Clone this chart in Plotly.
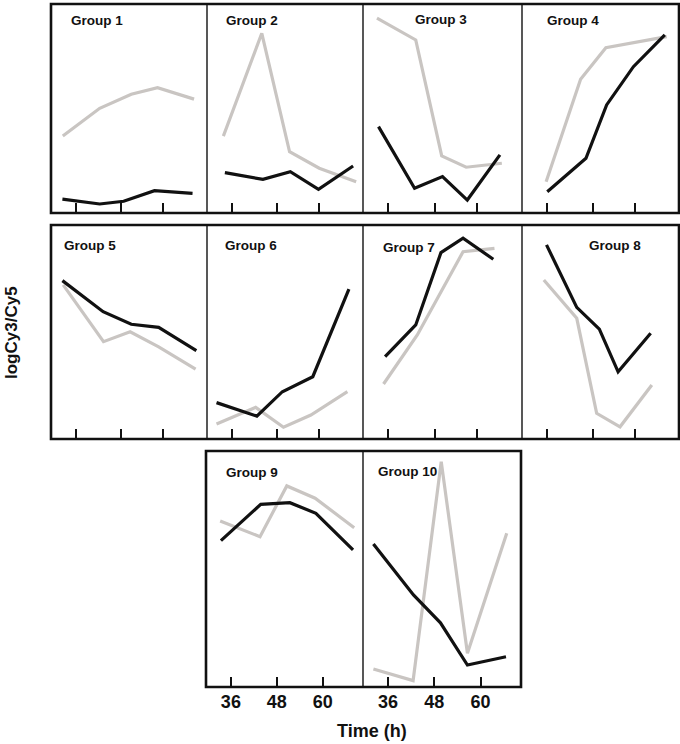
import plotly.graph_objects as go

# DATA (time in h, value as % of panel height)
groups = ["Group 1", "Group 2", "Group 3", "Group 4", "Group 5",
          "Group 6", "Group 7", "Group 8", "Group 9", "Group 10"]

black_t = [
    [32.5, 42.3, 48.6, 56.7, 66.7],
    [34.2, 44.2, 51.4, 58.8, 67.9],
    [33.5, 42.8, 50.0, 56.4, 64.8],
    [36.1, 46.2, 51.6, 58.6, 66.8],
    [32.5, 43.2, 50.6, 57.8, 67.7],
    [32.0, 42.6, 49.3, 57.3, 66.8],
    [35.2, 43.1, 49.6, 55.3, 63.1],
    [35.9, 43.8, 49.7, 54.6, 63.1],
    [33.4, 43.8, 51.4, 58.2, 67.9],
    [32.2, 42.6, 49.6, 56.6, 66.6],
]
black_v = [
    [6.6, 4.3, 5.6, 10.7, 9.4],
    [19.3, 16.1, 19.8, 11.3, 22.5],
    [41.3, 11.8, 17.4, 6.2, 27.8],
    [10.2, 26.2, 51.7, 70.0, 85.2],
    [74.0, 59.5, 53.6, 52.2, 41.3],
    [17.0, 10.7, 22.1, 29.1, 70.0],
    [38.5, 53.3, 87.1, 93.8, 84.0],
    [90.7, 61.5, 51.3, 31.4, 49.4],
    [62.0, 77.4, 78.1, 73.6, 58.1],
    [60.6, 39.0, 27.2, 9.3, 12.8],
]
grey_t = [
    [32.6, 42.3, 50.6, 57.5, 67.1],
    [33.8, 43.9, 51.2, 59.0, 68.7],
    [33.1, 43.1, 49.8, 56.1, 65.3],
    [35.8, 44.8, 51.4, 59.4, 67.3],
    [32.7, 43.3, 50.3, 57.8, 67.5],
    [32.0, 42.3, 49.6, 56.8, 66.4],
    [34.8, 43.5, 55.3, 63.4],
    [35.2, 43.8, 49.0, 55.1, 63.4],
    [33.2, 43.6, 50.6, 58.0, 68.2],
    [32.2, 42.5, 49.8, 56.6, 66.8],
]
grey_v = [
    [36.8, 50.1, 56.8, 60.0, 54.5],
    [36.8, 86.0, 29.3, 21.4, 15.0],
    [93.2, 82.8, 27.3, 21.9, 23.8],
    [15.0, 64.0, 79.1, 81.7, 84.4],
    [72.0, 45.5, 50.1, 43.1, 32.6],
    [7.0, 14.8, 5.5, 11.2, 22.1],
    [25.7, 48.6, 87.5, 89.1],
    [74.3, 56.4, 12.0, 5.7, 25.2],
    [70.3, 63.7, 85.2, 80.0, 67.5],
    [7.6, 2.7, 95.5, 14.3, 65.1],
]
tick_vals = [36, 48, 60]
tick_labels = ["36", "48", "60"]

W, H = 680, 744
FONT = "Arial, 'Liberation Sans', sans-serif"
BLACK = "#111111"
GREY = "#c9c5c2"

# panel boxes in pixels (left, right, top, bottom)
cols = [(51, 207), (207, 363), (363, 522), (522, 679)]
rows = [(4, 213), (225, 439)]
boxes = [(c[0], c[1], r[0], r[1]) for r in rows for c in cols]
boxes += [(206, 363, 451, 687), (363, 521, 451, 687)]
label_pos = [(69, 21), (224, 21), (413, 20), (545, 21), (62, 246),
             (223, 246), (381, 247), (587, 246), (224, 472), (376, 471)]


def px(x):
    return x / W


def py(y):
    return 1 - y / H


fig = go.Figure()
for i, name in enumerate(groups):
    l, r, t, b = boxes[i]
    n = "" if i == 0 else str(i + 1)
    fig.add_trace(go.Scatter(x=grey_t[i], y=grey_v[i], mode="lines",
                             line=dict(color=GREY, width=3.2),
                             xaxis="x" + n, yaxis="y" + n, showlegend=False))
    fig.add_trace(go.Scatter(x=black_t[i], y=black_v[i], mode="lines",
                             line=dict(color=BLACK, width=3.2),
                             xaxis="x" + n, yaxis="y" + n, showlegend=False))
    last_row = i >= 8
    fig.layout["xaxis" + n] = dict(
        domain=[px(l), px(r)], range=[29.5, 70.5], anchor="y" + n,
        showgrid=False, zeroline=False, showline=False,
        ticks="inside", ticklen=10, tickwidth=2.2, tickcolor=BLACK,
        tickvals=tick_vals if last_row else [36, 48, 59],
        ticktext=tick_labels if last_row else ["", "", ""],
        showticklabels=last_row, ticklabelstandoff=2,
        tickfont=dict(family=FONT, size=18, color=BLACK, weight="bold"),
        fixedrange=True)
    fig.layout["yaxis" + n] = dict(
        domain=[py(b), py(t)], range=[0, 100], anchor="x" + n,
        showgrid=False, zeroline=False, showline=False,
        showticklabels=False, ticks="", fixedrange=True)
    fig.add_annotation(x=px(label_pos[i][0]), y=py(label_pos[i][1]),
                       xref="paper", yref="paper", text="<b>%s</b>" % name,
                       showarrow=False, xanchor="left", yanchor="middle",
                       font=dict(family=FONT, size=13.5, color=BLACK))

# outer frames and panel dividers
frames = [(51, 679, 4, 213), (51, 679, 225, 439), (206, 521, 451, 687)]
for l, r, t, b in frames:
    fig.add_shape(type="rect", xref="paper", yref="paper",
                  x0=px(l), x1=px(r), y0=py(b), y1=py(t),
                  line=dict(color=BLACK, width=2.6), layer="above")
dividers = [(207, 4, 213), (363, 4, 213), (522, 4, 213),
            (207, 225, 439), (363, 225, 439), (522, 225, 439),
            (363, 451, 687)]
for x, t, b in dividers:
    fig.add_shape(type="line", xref="paper", yref="paper",
                  x0=px(x), x1=px(x), y0=py(b), y1=py(t),
                  line=dict(color=BLACK, width=1.4), layer="above")

fig.add_annotation(x=px(372), y=py(731), xref="paper", yref="paper",
                   text="<b>Time (h)</b>", showarrow=False,
                   xanchor="center", yanchor="middle",
                   font=dict(family=FONT, size=18, color=BLACK))
fig.add_annotation(x=px(12), y=py(333), xref="paper", yref="paper",
                   text="<b>logCy3/Cy5</b>", showarrow=False, textangle=-90,
                   xanchor="center", yanchor="middle",
                   font=dict(family=FONT, size=17, color=BLACK))

fig.update_layout(width=W, height=H, autosize=False,
                  margin=dict(l=0, r=0, t=0, b=0),
                  paper_bgcolor="white", plot_bgcolor="white")

# drop the browser's default page margin so the figure sits at 0,0
fig.write_html("out.html", config={"displayModeBar": False},
               post_script="document.body.style.margin='0';")
